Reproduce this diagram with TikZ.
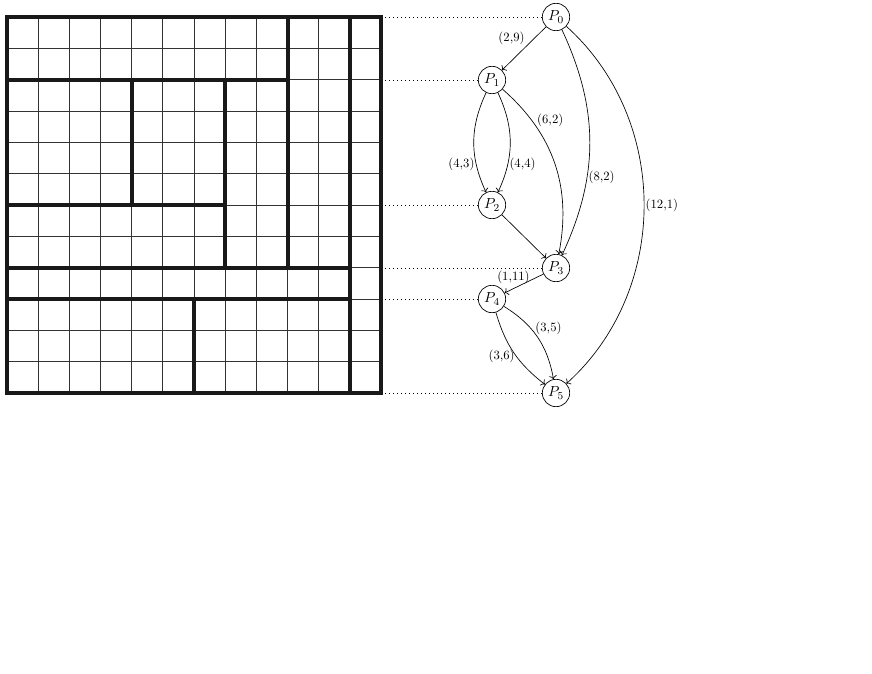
\documentclass[tikz,border=0pt]{standalone}
\usetikzlibrary{arrows.meta}
\begin{document}
\begin{tikzpicture}[x=0.75pt,y=-0.75pt,
  thinline/.style={line width=0.6pt,draw=black!80},
  thickline/.style={line width=3pt,draw=black!90,line cap=rect},
  pnode/.style={circle,draw,line width=0.5pt,minimum size=20.5pt,inner sep=0pt,font=\fontsize{11}{13}\selectfont},
  dotline/.style={line width=0.6pt,dash pattern=on 0.6pt off 2.4pt},
  arr/.style={->,line width=0.5pt},
  lab/.style={font=\fontsize{9.5}{11}\selectfont,inner sep=1pt}]
\useasboundingbox (0,0) rectangle (872,674);
% grid
\begin{scope}[shift={(7,17)},x=23.375pt,y=-23.5pt]
  \foreach \i in {1,...,11}{
    \draw[thinline] (\i,0) -- (\i,12);
    \draw[thinline] (0,\i) -- (12,\i);
  }
  \draw[thickline] (0,0) rectangle (12,12);
  \draw[thickline] (9,0) -- (9,8);
  \draw[thickline] (11,0) -- (11,12);
  \draw[thickline] (0,2) -- (9,2);
  \draw[thickline] (4,2) -- (4,6);
  \draw[thickline] (7,2) -- (7,8);
  \draw[thickline] (0,6) -- (7,6);
  \draw[thickline] (0,8) -- (11,8);
  \draw[thickline] (0,9) -- (11,9);
  \draw[thickline] (6,9) -- (6,12);
\end{scope}
% nodes
\node[pnode] (P0) at (556,17) {$P_0$};
\node[pnode] (P1) at (492,80) {$P_1$};
\node[pnode] (P2) at (492,205) {$P_2$};
\node[pnode] (P3) at (556,268) {$P_3$};
\node[pnode] (P4) at (492,299) {$P_4$};
\node[pnode] (P5) at (556,393) {$P_5$};
% dotted guides
\coordinate (gR) at (385,0);
\foreach \n in {P0,P1,P2,P3,P4,P5}{
  \draw[dotline] (gR |- \n.west) -- (\n.west);
}
% edges
\draw[arr] (P0) -- node[lab,pos=0.45,above left] {(2,9)} (P1);
\draw[arr] (P1) to[bend right=25] node[lab,pos=0.72,left] {(4,3)} (P2);
\draw[arr] (P1) to[bend left=25] node[lab,pos=0.72,right] {(4,4)} (P2);
\draw[arr] (P1) to[bend left=30] node[lab,pos=0.22,right=3pt] {(6,2)} (P3);
\draw[arr] (P0) to[bend left=25] node[lab,pos=0.66,right] {(8,2)} (P3);
\draw[arr] (P0) to[bend left=48] node[lab,pos=0.5,right] {(12,1)} (P5);
\draw[arr] (P2) -- (P3);
\draw[arr] (P3) -- node[lab,pos=0.38,anchor=south east,inner sep=0pt,yshift=-2pt,xshift=1pt] {(1,11)} (P4);
\draw[arr] (P4) to[bend right=18] node[lab,pos=0.55,left] {(3,6)} (P5);
\draw[arr] (P4) to[bend left=24] node[lab,pos=0.38,right=2pt] {(3,5)} (P5);
\end{tikzpicture}
\end{document}
